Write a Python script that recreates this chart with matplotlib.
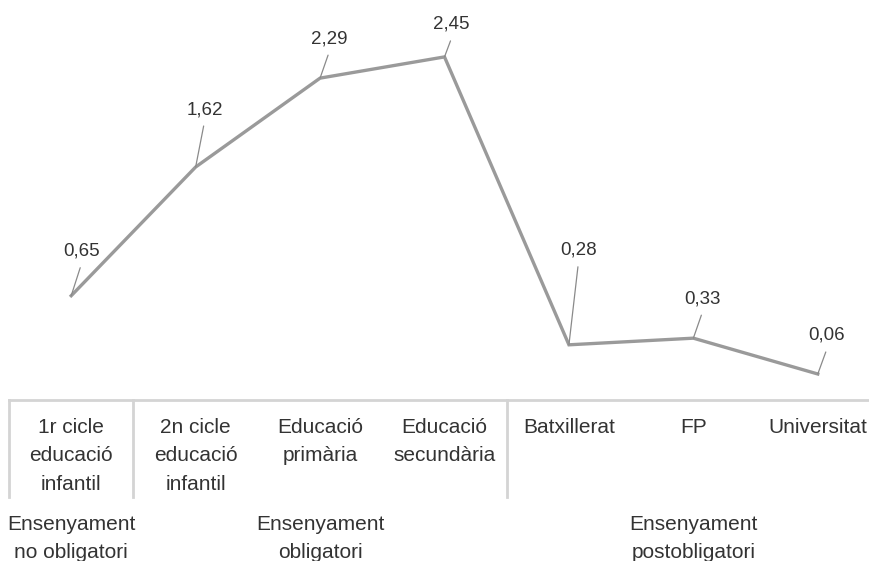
import matplotlib
matplotlib.use("Agg")
import matplotlib.pyplot as plt
from matplotlib import transforms

categories = ["1r cicle\neducació\ninfantil", "2n cicle\neducació\ninfantil",
              "Educació\nprimària", "Educació\nsecundària",
              "Batxillerat", "FP", "Universitat"]
values = [0.65, 1.62, 2.29, 2.45, 0.28, 0.33, 0.06]
groups = ["Ensenyament\nno obligatori", "Ensenyament\nobligatori", "Ensenyament\npostobligatori"]
group_centers = [0, 2, 5]
separators = [-0.5, 0.5, 3.5]

# leader-line offsets in pixels (style only)
leader = [(9, 28), (8, 41), (8, 23), (6, 16), (9, 78), (8, 23), (8, 22)]

W, H = 870, 561
fig = plt.figure(figsize=(W / 100, H / 100), dpi=100)
plt.rcParams['font.family'] = ['Liberation Sans', 'DejaVu Sans']

ax_left, ax_right = 9, 880
ax_top, ax_bot = 37, 400
ax = fig.add_axes([ax_left / W, (H - ax_bot) / H, (ax_right - ax_left) / W, (ax_bot - ax_top) / H])
ax.set_xlim(-0.5, 6.5)
ax.set_ylim(-0.136, 2.6)
for s in ["top", "left", "right"]:
    ax.spines[s].set_visible(False)
ax.spines["bottom"].set_color("#d4d4d4")
ax.spines["bottom"].set_linewidth(2.0)
ax.set_yticks([])
ax.set_xticks([])

x = list(range(len(values)))
ax.plot(x, values, color="#9a9a9a", lw=2.4, solid_joinstyle="miter", zorder=3)

for i, v in enumerate(values):
    dx, dy = leader[i]
    ax.annotate("", xy=(i, v), xytext=(dx, dy), textcoords="offset pixels",
                arrowprops=dict(arrowstyle="-", color="#8a8a8a", lw=0.9, shrinkA=0, shrinkB=0))
    ax.annotate(f"{v:.2f}".replace(".", ","), xy=(i, v), xytext=(dx + 1, dy + 8),
                textcoords="offset pixels", ha="center", va="bottom",
                fontsize=13.5, color="#333333")

bt = transforms.blended_transform_factory(ax.transData, fig.transFigure)
for s in separators:
    ax.plot([s, s], [(H - 400) / H, (H - 497) / H], transform=bt, color="#d4d4d4",
            lw=2.0, clip_on=False)

for i, c in enumerate(categories):
    ax.text(i, (H - 418) / H, c, transform=bt, ha="center", va="top",
            multialignment="center", fontsize=15, color="#333333", linespacing=1.62)

for g, gc in zip(groups, group_centers):
    ax.text(gc, (H - 515) / H, g, transform=bt, ha="center", va="top",
            multialignment="center", fontsize=15, color="#333333", linespacing=1.62)

fig.savefig("out.png", dpi=100)
